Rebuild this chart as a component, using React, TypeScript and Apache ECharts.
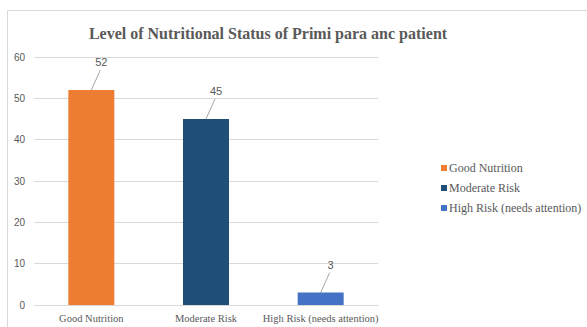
import React, { useEffect, useRef } from "react";
import * as echarts from "echarts";

const categories = ["Good Nutrition", "Moderate Risk", "High Risk (needs attention)"];
const values = [52, 45, 3];
const colors = ["#ED7D31", "#1F4E79", "#4472C4"];
const yTicks = { min: 0, max: 60, interval: 10 };

const TEXT = "#595959";
const SERIF = "Liberation Serif";
const SANS = "Liberation Sans";

export default function App() {
  const ref = useRef<HTMLDivElement>(null);

  useEffect(() => {
    if (!ref.current) return;
    const chart = echarts.init(ref.current, undefined, { renderer: "svg" });

    // one bar series per category so each gets its own legend entry
    const barSeries = categories.map((name, i) => ({
      name,
      type: "bar" as const,
      stack: "all",
      barWidth: 46,
      data: categories.map((_, j) => (j === i ? values[i] : null)),
      itemStyle: { color: colors[i] },
    }));

    chart.setOption({
      animation: false,
      color: colors,
      graphic: [
        {
          type: "rect",
          shape: { x: 7.5, y: 10.5, width: 620, height: 340 },
          style: { fill: "none", stroke: "#d9d9d9", lineWidth: 1 },
          silent: true,
        },
      ],
      title: {
        text: "Level of Nutritional Status of Primi para anc patient",
        left: 263,
        top: 20,
        textAlign: "center",
        textStyle: { fontFamily: SERIF, fontSize: 16, fontWeight: "bold", color: TEXT },
      },
      legend: {
        orient: "vertical",
        left: 436,
        top: 157,
        itemWidth: 6,
        itemHeight: 6,
        itemGap: 8,
        icon: "rect",
        data: categories,
        textStyle: { fontFamily: SERIF, fontSize: 12, color: TEXT, padding: [0, 0, 0, -3] },
      },
      grid: { left: 34, right: 209, top: 57, bottom: 22 },
      xAxis: {
        type: "category",
        data: categories,
        axisLine: { lineStyle: { color: "#d9d9d9" } },
        axisTick: { show: false },
        axisLabel: { fontFamily: SERIF, fontSize: 10.5, color: TEXT, margin: 8, interval: 0 },
      },
      yAxis: {
        type: "value",
        min: yTicks.min,
        max: yTicks.max,
        interval: yTicks.interval,
        axisLine: { show: false },
        axisTick: { show: false },
        axisLabel: { fontFamily: SANS, fontSize: 10, color: TEXT, margin: 9 },
        splitLine: { lineStyle: { color: "#d9d9d9" } },
      },
      series: [
        ...barSeries,
        {
          type: "custom",
          silent: true,
          data: values.map((v, i) => [i, v]),
          renderItem: (_params: any, api: any) => {
            const p = api.coord([api.value(0), api.value(1)]);
            return {
              type: "group",
              children: [
                {
                  type: "line",
                  shape: { x1: p[0], y1: p[1], x2: p[0] + 9, y2: p[1] - 20 },
                  style: { stroke: "#a6a6a6", lineWidth: 1 },
                },
                {
                  type: "text",
                  x: p[0] + 10,
                  y: p[1] - 28,
                  style: {
                    text: String(api.value(1)),
                    fontFamily: SANS,
                    fontSize: 11,
                    fill: TEXT,
                    align: "center",
                    verticalAlign: "middle",
                  },
                },
              ],
            };
          },
        },
      ],
    });

    return () => chart.dispose();
  }, []);

  return (
    <div
      ref={ref}
      style={{ position: "fixed", left: 0, top: 0, width: 587, height: 327, background: "#fff" }}
    />
  );
}
